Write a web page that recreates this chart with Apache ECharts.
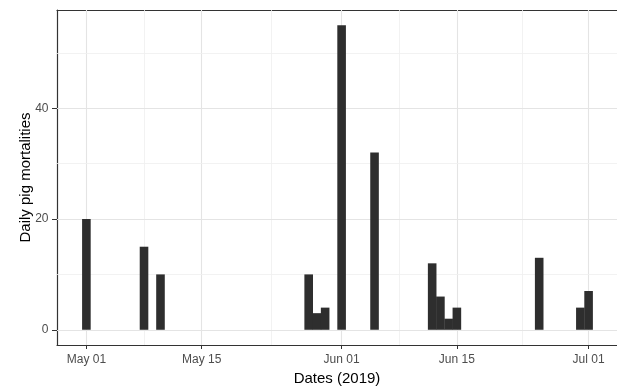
<!DOCTYPE html>
<html>
<head>
<meta charset="utf-8">
<script src="https://cdn.jsdelivr.net/npm/echarts@6/dist/echarts.min.js"></script>
<style>
html,body{margin:0;padding:0;background:#fff;}
#c{width:617px;height:387px;}
</style>
</head>
<body>
<div id="c"></div>
<script>
// ---- data ----
const barDates = ['2019-05-01','2019-05-08','2019-05-10','2019-05-28','2019-05-29','2019-05-30','2019-06-01','2019-06-05','2019-06-12','2019-06-13','2019-06-14','2019-06-15','2019-06-25','2019-06-30','2019-07-01'];
const mortalities = [20,15,10,10,3,4,55,32,12,6,2,4,13,4,7];
const xTickDates = ['2019-05-01','2019-05-15','2019-06-01','2019-06-15','2019-07-01'];
const xTickLabels = ['May 01','May 15','Jun 01','Jun 15','Jul 01'];
const xMinorDates = ['2019-05-08','2019-05-23T12:00','2019-06-08','2019-06-23'];
const yTicks = [0,20,40];
const yMinor = [10,30,50];

// dates -> day number counted from 2019-05-01 (x axis is in days)
function ts(s){ const [d,t] = s.split('T'); const [y,m,dd]=d.split('-').map(Number); let h=0,mi=0; if(t){[h,mi]=t.split(':').map(Number);} return Date.UTC(y,m-1,dd,h,mi); }
const DAY = 86400000;
const ORIGIN = ts('2019-05-01');
function dayNum(s){ return Math.round((ts(s)-ORIGIN)/DAY*1000)/1000; }
const xMin = -3.57;
const xMax = 64.45;

const tickX = xTickDates.map(dayNum);
const minorX = xMinorDates.map(dayNum);

const majorStyle = {color:'#e4e4e4', width:1.1, type:'solid'};
const minorStyle = {color:'#efefef', width:0.8, type:'solid'};
const gridLines = [];
tickX.forEach(v=>gridLines.push({xAxis:v, lineStyle:majorStyle}));
minorX.forEach(v=>gridLines.push({xAxis:v, lineStyle:minorStyle}));
yTicks.forEach(v=>gridLines.push({yAxis:v, lineStyle:majorStyle}));
yMinor.forEach(v=>gridLines.push({yAxis:v, lineStyle:minorStyle}));

const chart = echarts.init(document.getElementById('c'), null, {renderer:'canvas'});
const font = "'Liberation Sans', Arial, sans-serif";
chart.setOption({
  animation:false,
  backgroundColor:'#ffffff',
  grid:{left:57, right:0, top:10, bottom:42, containLabel:false, outerBoundsMode:'none'},
  xAxis:[{
    type:'value', min:xMin, max:xMax, position:'bottom',
    name:'Dates (2019)', nameLocation:'middle', nameGap:26, nameMoveOverlap:false,
    nameTextStyle:{fontFamily:font, fontSize:15, color:'#000'},
    axisLine:{show:true, onZero:false, lineStyle:{color:'#333', width:1.2}},
    axisTick:{show:true, customValues:tickX, length:4, lineStyle:{color:'#333', width:1}},
    axisLabel:{customValues:tickX, margin:9, fontFamily:font, fontSize:12, color:'#4d4d4d',
      showMinLabel:true, showMaxLabel:true,
      formatter:function(v){ const i = tickX.indexOf(v); return i>=0 ? xTickLabels[i] : ''; }},
    splitLine:{show:false}
  },{
    type:'value', min:xMin, max:xMax, position:'top',
    axisLine:{show:true, onZero:false, lineStyle:{color:'#333', width:1.2}},
    axisTick:{show:false}, axisLabel:{show:false}, splitLine:{show:false}
  }],
  yAxis:{
    type:'value', min:-2.75, max:57.75,
    name:'Daily pig mortalities', nameLocation:'middle', nameGap:24, nameMoveOverlap:false,
    nameTextStyle:{fontFamily:font, fontSize:15, color:'#000'},
    axisLine:{show:true, onZero:false, lineStyle:{color:'#333', width:1.2}},
    axisTick:{show:true, customValues:yTicks, length:5, lineStyle:{color:'#333', width:1}},
    axisLabel:{customValues:yTicks, margin:8.5, fontFamily:font, fontSize:12, color:'#4d4d4d'},
    splitLine:{show:false}
  },
  series:[{
    type:'bar',
    xAxisIndex:0,
    barWidth:8.6,
    itemStyle:{color:'#2e2e2e'},
    data: barDates.map((d,i)=>[dayNum(d), mortalities[i]]),
    markLine:{silent:true, symbol:'none', z:1, label:{show:false}, animation:false, data:gridLines}
  }]
});
</script>
</body>
</html>
